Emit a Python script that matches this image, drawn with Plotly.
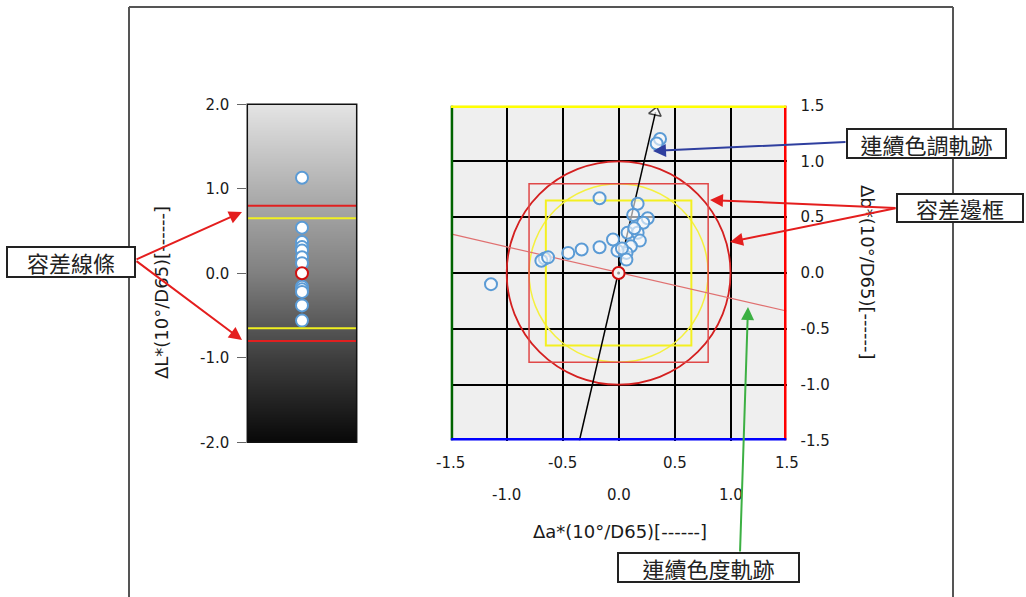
import plotly.graph_objects as go

# ---------------- data ----------------
# a*/b* colour differences (right panel)
da = [0.37, 0.34, -0.17, 0.17, 0.13, 0.26, 0.22, 0.08, 0.17, -0.05, 0.19, 0.11,
      0.07, -0.01, 0.07, -0.17, -0.33, -0.45, -0.66, -0.69, -0.63, -1.14, 0.03, 0.14]
db = [1.20, 1.16, 0.67, 0.62, 0.52, 0.49, 0.45, 0.36, 0.36, 0.30, 0.29, 0.24,
      0.18, 0.20, 0.12, 0.23, 0.21, 0.18, 0.13, 0.11, 0.14, -0.10, 0.22, 0.40]
# L* colour differences (left panel)
dL = [1.13, 0.54, 0.37, 0.31, 0.27, 0.19, 0.12, -0.16, -0.19, -0.22, -0.38, -0.56]

tol_red = 0.80      # outer tolerance
tol_yellow = 0.65   # inner tolerance
circle_red_r = 1.0
circle_yellow_r = 0.80

hue_line_x = [-0.35, 0.33]
hue_line_y = [-1.50, 1.44]
chroma_line_x = [-1.5, 1.5]
chroma_line_y = [0.35, -0.34]

grad_y = [-2.0, -1.0, 0.0, 1.0, 2.0]
grad_level = [8, 62, 128, 176, 228]

ab_ticks = [-1.5, -1.0, -0.5, 0.0, 0.5, 1.0, 1.5]
L_ticks = [-2.0, -1.0, 0.0, 1.0, 2.0]

W, H = 1026, 597
def px(x): return x / W
def py(y): return 1 - y / H

FONT = "DejaVu Sans"
CJK = "Noto Sans CJK TC"
BLUE = "#5b9bd5"
TXT = "#1a1a1a"

fig = go.Figure()

# left gradient background
fig.add_trace(go.Heatmap(
    x=[-1, 1], y=grad_y, z=[[v, v] for v in grad_level],
    colorscale=[[0, "#000000"], [1, "#ffffff"]], zmin=0, zmax=255,
    zsmooth="best", showscale=False, hoverinfo="skip", xaxis="x", yaxis="y"))

# left points
fig.add_trace(go.Scatter(
    x=[0] * len(dL), y=dL, mode="markers", xaxis="x", yaxis="y",
    marker=dict(size=12, color="white", line=dict(color=BLUE, width=2)),
    hoverinfo="skip", showlegend=False))
fig.add_trace(go.Scatter(
    x=[0], y=[0], mode="markers", xaxis="x", yaxis="y",
    marker=dict(size=12, color="white", line=dict(color="#d01010", width=2)),
    hoverinfo="skip", showlegend=False))

# right panel: chroma line and hue arrow
fig.add_trace(go.Scatter(
    x=chroma_line_x, y=chroma_line_y, mode="lines", xaxis="x2", yaxis="y2",
    line=dict(color="#e07070", width=1.2), hoverinfo="skip", showlegend=False))
fig.add_trace(go.Scatter(
    x=hue_line_x, y=hue_line_y, mode="lines+markers", xaxis="x2", yaxis="y2",
    line=dict(color="black", width=1.5),
    marker=dict(symbol="triangle-up", size=[0, 11], angleref="previous",
                color="white", line=dict(color="black", width=1.5)),
    hoverinfo="skip", showlegend=False))

# right points
fig.add_trace(go.Scatter(
    x=da, y=db, mode="markers", xaxis="x2", yaxis="y2",
    marker=dict(size=12, color="rgba(250,252,255,0.6)", line=dict(color=BLUE, width=2)),
    hoverinfo="skip", showlegend=False))
fig.add_trace(go.Scatter(
    x=[0], y=[0], mode="markers", xaxis="x2", yaxis="y2",
    marker=dict(size=12, color="#f4f4f4", line=dict(color="#d01010", width=2)),
    hoverinfo="skip", showlegend=False))
fig.add_trace(go.Scatter(
    x=[0], y=[0], mode="markers", xaxis="x2", yaxis="y2",
    marker=dict(size=3, color="#999999"), hoverinfo="skip", showlegend=False))

shapes = []
# outer frame
shapes += [
    dict(type="line", xref="paper", yref="paper", x0=px(129), x1=px(129), y0=py(7), y1=py(600),
         line=dict(color="#555555", width=2)),
    dict(type="line", xref="paper", yref="paper", x0=px(129), x1=px(953), y0=py(7), y1=py(7),
         line=dict(color="#555555", width=2)),
    dict(type="line", xref="paper", yref="paper", x0=px(953), x1=px(953), y0=py(7), y1=py(600),
         line=dict(color="#555555", width=2)),
]
# left tolerance lines
for v, c in [(tol_red, "#e02020"), (-tol_red, "#e02020"), (tol_yellow, "#f0f020"), (-tol_yellow, "#f0f020")]:
    shapes.append(dict(type="line", xref="x", yref="y", x0=-1, x1=1, y0=v, y1=v,
                       line=dict(color=c, width=2), layer="above"))
shapes.append(dict(type="rect", xref="x domain", yref="y domain", x0=0, x1=1, y0=0, y1=1,
                   line=dict(color="#111111", width=1.5), layer="above"))
# right tolerance shapes
shapes += [
    dict(type="circle", xref="x2", yref="y2", x0=-circle_red_r, x1=circle_red_r,
         y0=-circle_red_r, y1=circle_red_r, line=dict(color="#d42020", width=1.8), layer="between"),
    dict(type="circle", xref="x2", yref="y2", x0=-circle_yellow_r, x1=circle_yellow_r,
         y0=-circle_yellow_r, y1=circle_yellow_r, line=dict(color="#f4f040", width=1.5), layer="between"),
    dict(type="rect", xref="x2", yref="y2", x0=-tol_red, x1=tol_red, y0=-tol_red, y1=tol_red,
         line=dict(color="#e04848", width=1.5), layer="between"),
    dict(type="rect", xref="x2", yref="y2", x0=-tol_yellow, x1=tol_yellow, y0=-tol_yellow, y1=tol_yellow,
         line=dict(color="#f4f020", width=2), layer="between"),
]
# coloured borders
shapes += [
    dict(type="line", xref="x2", yref="y2", x0=-1.5, x1=-1.5, y0=-1.5, y1=1.5,
         line=dict(color="#006400", width=5), layer="above"),
    dict(type="line", xref="x2", yref="y2", x0=1.5, x1=1.5, y0=-1.5, y1=1.5,
         line=dict(color="#ff0000", width=5), layer="above"),
    dict(type="line", xref="x2", yref="y2", x0=-1.5, x1=1.5, y0=1.5, y1=1.5,
         line=dict(color="#ffff00", width=5), layer="above"),
    dict(type="line", xref="x2", yref="y2", x0=-1.5, x1=1.5, y0=-1.5, y1=-1.5,
         line=dict(color="#0000ff", width=5), layer="above"),
]

ann = []
# x tick labels (staggered)
for i, t in enumerate(ab_ticks):
    ann.append(dict(xref="x2", yref="paper", x=t, y=py(463 if i % 2 == 0 else 495),
                    text=f"{t:.1f}", showarrow=False, xanchor="center", yanchor="middle",
                    font=dict(family=FONT, size=15, color=TXT)))
# axis titles
ann.append(dict(xref="paper", yref="paper", x=px(620), y=py(531), text="Δa*(10°/D65)[------]",
                xanchor="center", yanchor="middle",
                showarrow=False, font=dict(family=FONT, size=18, color=TXT)))
ann.append(dict(xref="paper", yref="paper", x=px(868), y=py(272), text="Δb*(10°/D65)[------]",
                xanchor="center", yanchor="middle",
                textangle=90, showarrow=False, font=dict(family=FONT, size=18, color=TXT)))
ann.append(dict(xref="paper", yref="paper", x=px(161), y=py(293), text="ΔL*(10°/D65)[------]",
                xanchor="center", yanchor="middle",
                textangle=-90, showarrow=False, font=dict(family=FONT, size=18, color=TXT)))

# callout arrows (head x,y ; tail offset ax,ay in px)
arrows = [
    ((242, 212), (135, 260), "#e41e1e"),
    ((242, 340), (135, 260), "#e41e1e"),
    ((653, 151), (847, 142), "#2f3f9f"),
    ((710, 200), (897, 208), "#e41e1e"),
    ((730, 242), (897, 208), "#e41e1e"),
    ((748, 307), (740, 553), "#3cb043"),
]
for (hx, hy), (tx, ty), c in arrows:
    ann.append(dict(xref="paper", yref="paper", x=px(hx), y=py(hy), ax=tx - hx, ay=ty - hy,
                    text="", showarrow=True, arrowhead=2, arrowsize=1.3, arrowwidth=2,
                    arrowcolor=c, standoff=0, startstandoff=0))

# callout boxes
boxes = [
    ("容差線條", 71, 262, 124, 26),
    ("連續色調軌跡", 926, 143, 155, 25),
    ("容差邊框", 960, 208, 122, 24),
    ("連續色度軌跡", 708, 567, 177, 25),
]
for txt, cx, cy, w, h in boxes:
    ann.append(dict(xref="paper", yref="paper", x=px(cx), y=py(cy), text=txt, showarrow=False,
                    xanchor="center", yanchor="middle", width=w, height=h, borderpad=1,
                    bgcolor="white", bordercolor="#222", borderwidth=2,
                    font=dict(family=CJK, size=22, color="#222")))

fig.update_layout(
    width=W, height=H, margin=dict(l=0, r=0, t=0, b=0, pad=0, autoexpand=False),
    paper_bgcolor="white", plot_bgcolor="#efefef", showlegend=False,
    shapes=shapes, annotations=ann,
    xaxis=dict(domain=[px(247.3), px(356.7)], range=[-1, 1], visible=False, fixedrange=True,
               automargin=False),
    yaxis=dict(domain=[py(442.3), py(104.3)], range=[-2, 2], tickvals=L_ticks,
               ticktext=[f"{t:.1f}" for t in L_ticks], ticks="outside", ticklen=9,
               tickcolor="#666", showgrid=False, zeroline=False, ticklabelstandoff=5,
               tickfont=dict(family=FONT, size=15, color=TXT), anchor="x", automargin=False),
    xaxis2=dict(domain=[px(450.7), px(786.5)], range=[-1.5, 1.5], tickvals=ab_ticks,
                showticklabels=False, showgrid=True, gridcolor="black", gridwidth=2,
                zeroline=True, zerolinecolor="black", zerolinewidth=2, anchor="y2", automargin=False),
    yaxis2=dict(domain=[py(440.5), py(105.5)], range=[-1.5, 1.5], tickvals=ab_ticks,
                ticktext=[f"{t:.1f}" for t in ab_ticks], side="right", ticks="outside",
                ticklen=10, tickcolor="rgba(0,0,0,0)", showgrid=True, gridcolor="black",
                gridwidth=2, zeroline=True, zerolinecolor="black", zerolinewidth=2,
                tickfont=dict(family=FONT, size=15, color=TXT), anchor="x2", automargin=False),
)

fig.write_html("out.html", config={"displayModeBar": False},
               post_script="document.body.style.margin='0px';")
